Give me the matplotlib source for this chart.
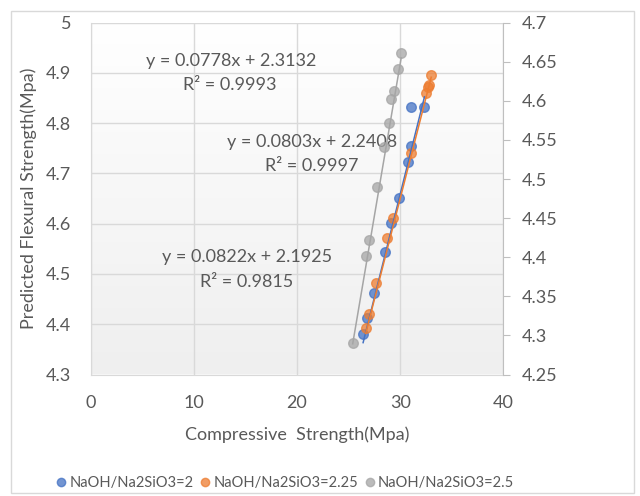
import numpy as np
import matplotlib
matplotlib.use("Agg")
import matplotlib.pyplot as plt
from matplotlib.patches import Rectangle
from matplotlib.lines import Line2D

plt.rcParams['font.family'] = ['Lato', 'DejaVu Sans']

# ---- data ----
x_blue = [26.41, 26.80, 27.44, 28.50, 29.13, 29.90, 30.80, 31.07, 31.07, 32.36]
y_blue = [4.380, 4.412, 4.462, 4.544, 4.602, 4.652, 4.722, 4.754, 4.833, 4.833]

x_orange = [26.66, 27.02, 27.63, 28.77, 29.32, 31.07, 32.55, 32.68, 32.78, 33.01]
y_orange = [4.392, 4.421, 4.482, 4.571, 4.611, 4.741, 4.861, 4.873, 4.877, 4.895]

x_grey = [25.40, 26.70, 27.00, 27.80, 28.40, 28.90, 29.15, 29.40, 29.80, 30.10]
y_grey = [4.290, 4.4015, 4.4225, 4.490, 4.541, 4.572, 4.602, 4.612, 4.641, 4.661]

# trendline coefficients (slope, intercept) as shown on chart
fit_blue = (0.0822, 2.1925)
fit_orange = (0.0803, 2.2408)
fit_grey = (0.0778, 2.3132)

labels = ['NaOH/Na2SiO3=2', 'NaOH/Na2SiO3=2.25', 'NaOH/Na2SiO3=2.5']
left_ticks = [4.3, 4.4, 4.5, 4.6, 4.7, 4.8, 4.9, 5.0]
left_ticklabels = ['4.3', '4.4', '4.5', '4.6', '4.7', '4.8', '4.9', '5']
right_ticks = [4.25, 4.3, 4.35, 4.4, 4.45, 4.5, 4.55, 4.6, 4.65, 4.7]
right_ticklabels = ['4.25', '4.3', '4.35', '4.4', '4.45', '4.5', '4.55', '4.6', '4.65', '4.7']
x_ticks = [0, 10, 20, 30, 40]

BLUE = '#4472C4'
ORANGE = '#ED7D31'
GREY = '#A5A5A5'
TXT = '#595959'
GRID = '#D9D9D9'

fig = plt.figure(figsize=(6.4, 4.96), dpi=100)
fig.patch.set_facecolor('white')
# chart border
fig.patches.append(Rectangle((11/640, 1-493/496), (634-11)/640, (493-11)/496,
                             transform=fig.transFigure, fill=False,
                             edgecolor='#D9D9D9', lw=1))

ax = fig.add_axes([90.7/640, 1-374.5/496, (503.3-90.7)/640, (374.5-22.7)/496])
ax.set_facecolor('none')
# subtle gradient background
grad = np.linspace(0, 1, 256).reshape(-1, 1)
ax.imshow(grad, extent=[0, 1, 0, 1], transform=ax.transAxes, aspect='auto',
          cmap=matplotlib.colors.LinearSegmentedColormap.from_list('g', ['#EFEFEF', '#FFFFFF']),
          origin='lower', zorder=0)

ax.set_xlim(0, 40)
ax.set_ylim(4.3, 5.0)
ax.set_xticks(x_ticks)
ax.set_yticks(left_ticks)
ax.set_yticklabels(left_ticklabels)
ax.grid(True, color=GRID, lw=1)
ax.set_axisbelow(True)
for s in ['top', 'right']:
    ax.spines[s].set_visible(False)
ax.spines['left'].set_color(GRID)
ax.spines['bottom'].set_color(GRID)
ax.tick_params(axis='both', length=0, colors=TXT, labelsize=13)
ax.tick_params(axis='y', pad=14)
ax.tick_params(axis='x', pad=15)

ax2 = ax.twinx()
ax2.set_ylim(4.25, 4.7)
ax2.set_yticks(right_ticks)
ax2.set_yticklabels(right_ticklabels)
for s in ['top', 'left', 'bottom']:
    ax2.spines[s].set_visible(False)
ax2.spines['right'].set_color('#BFBFBF')
ax2.tick_params(axis='y', length=5, color='#BFBFBF', colors=TXT, labelsize=13, pad=8)
ax2.tick_params(axis='y', color='#BFBFBF')

msize = 48
ax.scatter(x_blue, y_blue, s=msize, facecolor=BLUE, alpha=0.75, edgecolor=BLUE, lw=1, zorder=3)
ax.scatter(x_orange, y_orange, s=msize, facecolor=ORANGE, alpha=0.75, edgecolor=ORANGE, lw=1, zorder=3)
ax2.scatter(x_grey, y_grey, s=msize, facecolor=GREY, alpha=0.75, edgecolor=GREY, lw=1, zorder=3)

xb = np.array([min(x_blue), max(x_blue)])
ax.plot(xb, fit_blue[0]*xb + fit_blue[1], color=BLUE, lw=1.1, zorder=4)
xo = np.array([min(x_orange), max(x_orange)])
ax.plot(xo, fit_orange[0]*xo + fit_orange[1], color=ORANGE, lw=1.1, zorder=4)
xg = np.array([min(x_grey), max(x_grey)])
ax2.plot(xg, fit_grey[0]*xg + fit_grey[1], color=GREY, lw=1.1, zorder=4)

fs_eq = 13
ax.text(13.6, 4.924, 'y = 0.0778x + 2.3132', ha='center', va='center', color=TXT, fontsize=fs_eq)
ax.text(13.5, 4.876, 'R² = 0.9993', ha='center', va='center', color=TXT, fontsize=fs_eq)
ax.text(21.44, 4.763, 'y = 0.0803x + 2.2408', ha='center', va='center', color=TXT, fontsize=fs_eq)
ax.text(21.46, 4.715, 'R² = 0.9997', ha='center', va='center', color=TXT, fontsize=fs_eq)
ax.text(15.13, 4.534, 'y = 0.0822x + 2.1925', ha='center', va='center', color=TXT, fontsize=fs_eq)
ax.text(15.15, 4.484, 'R² = 0.9815', ha='center', va='center', color=TXT, fontsize=fs_eq)

fig.text(29/640, 1-198.5/496, 'Predicted Flexural Strength(Mpa)', rotation=90,
         ha='center', va='center', color=TXT, fontsize=13)
fig.text(296.7/640, 1-435/496, 'Compressive  Strength(Mpa)', ha='center', va='center',
         color=TXT, fontsize=13)

handles = [Line2D([], [], ls='none', marker='o', ms=6, mfc=c, mec=c, alpha=0.75)
           for c in (BLUE, ORANGE, GREY)]
leg = fig.legend(handles, labels, loc='center', bbox_to_anchor=(284/640, 1-483/496),
                 ncol=3, frameon=False, fontsize=10.5, handletextpad=0.05,
                 columnspacing=0.3, handlelength=1.0, labelcolor=TXT,
                 borderpad=0, borderaxespad=0)

fig.savefig('out.png', dpi=100)
